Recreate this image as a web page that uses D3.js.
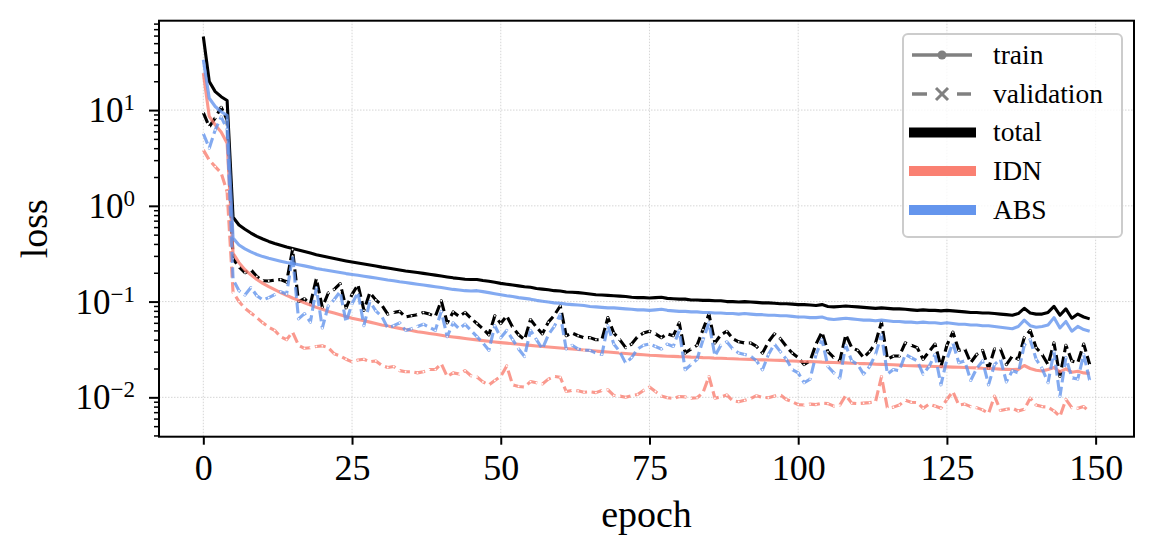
<!DOCTYPE html>
<html>
<head>
<meta charset="utf-8">
<script src="https://cdn.jsdelivr.net/npm/d3@7"></script>
<style>
  body { margin: 0; background: #fff; }
  svg text { font-family: "Liberation Serif", "DejaVu Serif", serif; fill: #000; }
</style>
</head>
<body>
<script>
// epoch index 0..149 (one value per epoch in every series)
const xTicks = [0, 25, 50, 75, 100, 125, 150];
const yExponents = [-2, -1, 0, 1];

const trainTotal = [
  58.6, 19.9, 15.6, 13.8, 12.6, 0.76, 0.63, 0.57, 0.52, 0.48,
  0.45, 0.425, 0.405, 0.388, 0.372, 0.359, 0.346, 0.333, 0.321, 0.309,
  0.299, 0.29, 0.282, 0.274, 0.266, 0.259, 0.253, 0.247, 0.241, 0.235,
  0.229, 0.224, 0.219, 0.214, 0.209, 0.205, 0.201, 0.197, 0.193, 0.189,
  0.185, 0.181, 0.177, 0.174, 0.171, 0.17, 0.17, 0.166, 0.163, 0.159,
  0.155, 0.152, 0.149, 0.146, 0.143, 0.141, 0.137, 0.135, 0.133, 0.13,
  0.129, 0.126, 0.125, 0.124, 0.122, 0.12, 0.118, 0.117, 0.116, 0.115,
  0.114, 0.113, 0.111, 0.11, 0.11, 0.109, 0.11, 0.111, 0.108, 0.107,
  0.106, 0.106, 0.104, 0.104, 0.103, 0.103, 0.102, 0.102, 0.1, 0.1,
  0.099, 0.1, 0.099, 0.098, 0.097, 0.097, 0.096, 0.095, 0.095, 0.094,
  0.093, 0.093, 0.092, 0.091, 0.093, 0.089, 0.088, 0.089, 0.09, 0.089,
  0.088, 0.087, 0.086, 0.085, 0.086, 0.085, 0.084, 0.084, 0.083, 0.082,
  0.081, 0.082, 0.081, 0.081, 0.08, 0.081, 0.08, 0.079, 0.078, 0.077,
  0.077, 0.076, 0.076, 0.075, 0.074, 0.073, 0.072, 0.075, 0.085, 0.076,
  0.074, 0.074, 0.077, 0.089, 0.072, 0.084, 0.067, 0.074, 0.069, 0.066
];

const valTotal = [
  9.4, 6.7, 8.3, 10.7, 7.9, 0.28, 0.23, 0.2, 0.215, 0.183,
  0.165, 0.164, 0.168, 0.17, 0.16, 0.35, 0.1, 0.107, 0.094, 0.174,
  0.087, 0.123, 0.134, 0.154, 0.086, 0.119, 0.15, 0.081, 0.124, 0.104,
  0.092, 0.074, 0.077, 0.079, 0.069, 0.071, 0.073, 0.077, 0.074, 0.07,
  0.102, 0.06, 0.078, 0.07, 0.077, 0.067, 0.059, 0.052, 0.045, 0.071,
  0.059, 0.071, 0.054, 0.045, 0.04, 0.065, 0.054, 0.046, 0.061, 0.072,
  0.09, 0.044, 0.047, 0.044, 0.042, 0.042, 0.04, 0.04, 0.068, 0.047,
  0.04, 0.033, 0.036, 0.043, 0.047, 0.049, 0.046, 0.042, 0.046, 0.044,
  0.06, 0.029, 0.032, 0.035, 0.051, 0.074, 0.037, 0.045, 0.049, 0.041,
  0.038, 0.037, 0.037, 0.034, 0.029, 0.038, 0.046, 0.041, 0.034, 0.029,
  0.026, 0.022, 0.024, 0.036, 0.048, 0.03, 0.026, 0.024, 0.045, 0.033,
  0.031, 0.026, 0.03, 0.037, 0.061, 0.025, 0.027, 0.027, 0.037, 0.035,
  0.033, 0.025, 0.03, 0.036, 0.021, 0.035, 0.048, 0.031, 0.032, 0.023,
  0.028, 0.031, 0.02, 0.032, 0.032, 0.022, 0.027, 0.025, 0.042, 0.05,
  0.033, 0.028, 0.022, 0.037, 0.0165, 0.035, 0.024, 0.023, 0.036, 0.022
];

const trainIdn = [
  24.3, 8.6, 7.0, 5.9, 4.5, 0.32, 0.255, 0.215, 0.19, 0.17,
  0.155, 0.143, 0.133, 0.124, 0.116, 0.109, 0.103, 0.097, 0.092, 0.087,
  0.083, 0.079, 0.076, 0.073, 0.070, 0.067, 0.065, 0.063, 0.061, 0.059,
  0.057, 0.0555, 0.054, 0.0525, 0.051, 0.050, 0.0485, 0.0475, 0.0465, 0.0455,
  0.0445, 0.0435, 0.0427, 0.042, 0.0412, 0.0405, 0.0398, 0.0391, 0.0385, 0.0379,
  0.0373, 0.0368, 0.0363, 0.0358, 0.0353, 0.0349, 0.0344, 0.034, 0.0336, 0.0332,
  0.0328, 0.0324, 0.032, 0.0316, 0.0312, 0.0308, 0.0304, 0.03, 0.0297, 0.0294,
  0.029, 0.0287, 0.0284, 0.0281, 0.0278, 0.0275, 0.0273, 0.0271, 0.0269, 0.0268,
  0.0266, 0.0265, 0.0263, 0.0262, 0.026, 0.0259, 0.0257, 0.0256, 0.0254, 0.0253,
  0.0251, 0.025, 0.0249, 0.0247, 0.0246, 0.0245, 0.0244, 0.0243, 0.0241, 0.024,
  0.0238, 0.0237, 0.0236, 0.0235, 0.0233, 0.0232, 0.0231, 0.023, 0.0229, 0.0227,
  0.0226, 0.0225, 0.0224, 0.0222, 0.0221, 0.022, 0.0219, 0.0217, 0.0215, 0.0214,
  0.0213, 0.0212, 0.0211, 0.021, 0.0209, 0.0208, 0.0207, 0.0206, 0.0205, 0.0204,
  0.0203, 0.0201, 0.02, 0.0199, 0.0197, 0.0196, 0.0195, 0.0196, 0.0215, 0.02,
  0.0192, 0.0188, 0.0195, 0.0205, 0.0185, 0.0198, 0.0183, 0.0187, 0.018, 0.0178
];

const valIdn = [
  3.84, 3.0, 2.57, 2.2, 1.4, 0.125, 0.1, 0.085, 0.076, 0.068,
  0.06, 0.054, 0.05, 0.043, 0.04, 0.048, 0.035, 0.0325, 0.033, 0.034,
  0.0345, 0.033, 0.0285, 0.027, 0.025, 0.0235, 0.0245, 0.025, 0.0235, 0.024,
  0.0215, 0.0205, 0.021, 0.019, 0.0185, 0.0185, 0.018, 0.0185, 0.0195, 0.0195,
  0.0225, 0.0165, 0.018, 0.0175, 0.019, 0.0168, 0.0163, 0.0145, 0.0135, 0.015,
  0.0165, 0.0213, 0.0135, 0.013, 0.0128, 0.0146, 0.0142, 0.0138, 0.0155, 0.0165,
  0.0162, 0.0115, 0.0118, 0.0117, 0.0113, 0.0114, 0.0112, 0.0118, 0.012, 0.0105,
  0.0103, 0.01, 0.0104, 0.0107, 0.0118, 0.0128, 0.0115, 0.0103, 0.0099, 0.0097,
  0.0102, 0.0101, 0.0098, 0.0099, 0.0112, 0.0165, 0.0098, 0.0101, 0.0106, 0.0092,
  0.009, 0.0093, 0.0097, 0.0104, 0.01, 0.0099, 0.0103, 0.0106, 0.0095, 0.009,
  0.0084, 0.0083, 0.0085, 0.0084, 0.0087, 0.0086, 0.0081, 0.0083, 0.0105, 0.0087,
  0.0086, 0.0087, 0.0088, 0.009, 0.0165, 0.0077, 0.0079, 0.0083, 0.0093, 0.0089,
  0.0088, 0.0077, 0.0085, 0.0081, 0.0077, 0.0095, 0.0115, 0.0083, 0.0085, 0.008,
  0.0078, 0.0074, 0.0068, 0.0103, 0.0073, 0.0075, 0.0077, 0.0072, 0.0075, 0.0098,
  0.0083, 0.008, 0.0079, 0.0072, 0.0063, 0.0095, 0.0078, 0.0077, 0.008, 0.007
];

const trainAbs = [
  33.5, 13.3, 10.9, 9.6, 8.8, 0.46, 0.39, 0.355, 0.33, 0.31,
  0.295, 0.283, 0.273, 0.264, 0.256, 0.25, 0.243, 0.236, 0.229, 0.222,
  0.216, 0.211, 0.206, 0.201, 0.196, 0.192, 0.188, 0.184, 0.18, 0.176,
  0.172, 0.168, 0.165, 0.161, 0.158, 0.155, 0.152, 0.149, 0.146, 0.143,
  0.14, 0.137, 0.134, 0.132, 0.13, 0.129, 0.13, 0.127, 0.124, 0.121,
  0.118, 0.115, 0.113, 0.11, 0.108, 0.106, 0.103, 0.101, 0.099, 0.097,
  0.096, 0.094, 0.093, 0.092, 0.091, 0.089, 0.088, 0.087, 0.086, 0.086,
  0.085, 0.084, 0.083, 0.082, 0.082, 0.081, 0.082, 0.083, 0.081, 0.08,
  0.079, 0.079, 0.078, 0.078, 0.077, 0.077, 0.076, 0.076, 0.075, 0.075,
  0.074, 0.075, 0.074, 0.073, 0.073, 0.072, 0.072, 0.071, 0.071, 0.07,
  0.069, 0.069, 0.068, 0.068, 0.069, 0.066, 0.065, 0.066, 0.067, 0.066,
  0.065, 0.064, 0.064, 0.063, 0.064, 0.063, 0.062, 0.062, 0.061, 0.061,
  0.06, 0.061, 0.06, 0.06, 0.059, 0.06, 0.059, 0.058, 0.058, 0.057,
  0.057, 0.056, 0.056, 0.055, 0.054, 0.053, 0.052, 0.055, 0.064, 0.056,
  0.054, 0.055, 0.057, 0.068, 0.053, 0.062, 0.049, 0.055, 0.051, 0.049
];

const valAbs = [
  5.7, 4.0, 6.2, 8.5, 6.3, 0.17, 0.13, 0.117, 0.14, 0.115,
  0.104, 0.11, 0.118, 0.127, 0.12, 0.3, 0.066, 0.075, 0.061, 0.14,
  0.053, 0.09, 0.105, 0.127, 0.061, 0.095, 0.125, 0.056, 0.1, 0.08,
  0.07, 0.053, 0.056, 0.06, 0.05, 0.052, 0.055, 0.058, 0.054, 0.05,
  0.079, 0.043, 0.06, 0.052, 0.058, 0.05, 0.043, 0.037, 0.031, 0.056,
  0.042, 0.05, 0.04, 0.032, 0.0267, 0.05, 0.04, 0.032, 0.045, 0.055,
  0.0735, 0.032, 0.035, 0.032, 0.031, 0.031, 0.029, 0.028, 0.056, 0.036,
  0.03, 0.0227, 0.026, 0.032, 0.035, 0.036, 0.034, 0.032, 0.036, 0.034,
  0.05, 0.0194, 0.022, 0.025, 0.04, 0.06, 0.027, 0.035, 0.038, 0.032,
  0.029, 0.028, 0.027, 0.024, 0.0194, 0.028, 0.036, 0.03, 0.025, 0.0195,
  0.018, 0.0142, 0.0155, 0.028, 0.04, 0.021, 0.018, 0.0159, 0.035, 0.024,
  0.022, 0.0175, 0.021, 0.028, 0.045, 0.0175, 0.0195, 0.019, 0.028, 0.026,
  0.024, 0.0175, 0.021, 0.028, 0.0135, 0.025, 0.037, 0.023, 0.024, 0.015,
  0.02, 0.024, 0.0135, 0.022, 0.025, 0.0145, 0.019, 0.018, 0.035, 0.04,
  0.025, 0.02, 0.0142, 0.03, 0.0102, 0.026, 0.016, 0.0155, 0.028, 0.015
];

const seriesNames = ['total', 'IDN', 'ABS'];
const seriesColors = ['#000000', '#fa8072', '#6495ed'];

const width = 1155;
const height = 556;
const plot = { left: 159, right: 1134, top: 20.7, bottom: 436.7 };

const xScale = d3.scaleLinear().domain([-7.45, 156.45]).range([plot.left, plot.right]);
const yScale = d3.scaleLog().domain([0.00388, 85.8]).range([plot.bottom, plot.top]);

const svg = d3
    .select('body')
    .append('svg')
    .attr('width', width)
    .attr('height', height);

svg.append('defs')
    .append('clipPath')
    .attr('id', 'plotclip')
    .append('rect')
    .attr('x', plot.left)
    .attr('y', plot.top)
    .attr('width', plot.right - plot.left)
    .attr('height', plot.bottom - plot.top);

// Grid
const grid = svg.append('g').attr('stroke', '#c4c4c4').attr('stroke-width', 0.7).attr('stroke-dasharray', '1.5,1.5');
grid.selectAll('line.gx')
    .data(xTicks)
    .enter()
    .append('line')
    .attr('x1', d => xScale(d))
    .attr('x2', d => xScale(d))
    .attr('y1', plot.top)
    .attr('y2', plot.bottom);
grid.selectAll('line.gy')
    .data(yExponents)
    .enter()
    .append('line')
    .attr('x1', plot.left)
    .attr('x2', plot.right)
    .attr('y1', d => yScale(Math.pow(10, d)))
    .attr('y2', d => yScale(Math.pow(10, d)));

// Lines: per component, train then validation
const line = d3.line().x((d, i) => xScale(i)).y(d => yScale(d));
const lineData = [
    { values: trainTotal, color: seriesColors[0], dashed: false, opacity: 1 },
    { values: valTotal, color: seriesColors[0], dashed: true, opacity: 1 },
    { values: trainIdn, color: seriesColors[1], dashed: false, opacity: 0.8 },
    { values: valIdn, color: seriesColors[1], dashed: true, opacity: 0.8 },
    { values: trainAbs, color: seriesColors[2], dashed: false, opacity: 0.8 },
    { values: valAbs, color: seriesColors[2], dashed: true, opacity: 0.8 }
];

const lines = svg.append('g').attr('clip-path', 'url(#plotclip)');
lineData.forEach(s => {
    const g = lines.append('g').attr('opacity', s.opacity);
    g.append('path')
        .attr('d', line(s.values))
        .attr('fill', 'none')
        .attr('stroke', s.color)
        .attr('stroke-width', 3.1)
        .attr('stroke-linejoin', 'round')
        .attr('stroke-dasharray', s.dashed ? '11,4.5' : null);
    if (s.dashed) {
        g.selectAll('circle')
            .data(s.values)
            .enter()
            .append('circle')
            .attr('cx', (d, i) => xScale(i))
            .attr('cy', d => yScale(d))
            .attr('r', 0.9)
            .attr('fill', '#fff');
    }
});

// Frame
svg.append('rect')
    .attr('x', plot.left)
    .attr('y', plot.top)
    .attr('width', plot.right - plot.left)
    .attr('height', plot.bottom - plot.top)
    .attr('fill', 'none')
    .attr('stroke', '#000')
    .attr('stroke-width', 2);

// x-axis
const xAxis = svg.append('g')
    .attr('transform', `translate(0, ${plot.bottom})`)
    .call(d3.axisBottom(xScale).tickValues(xTicks).tickSize(8).tickPadding(10));
xAxis.select('.domain').remove();
xAxis.selectAll('line').attr('stroke-width', 2);
xAxis.selectAll('text')
    .attr('font-size', '36px')
    .attr('font-family', '"Liberation Serif", serif');

// y-axis minor ticks
const minorTicks = [];
[-3, -2, -1, 0, 1].forEach(e => {
    for (let m = 2; m <= 9; m++) {
        const v = m * Math.pow(10, e);
        if (v >= 0.00388 && v <= 85.8) minorTicks.push(v);
    }
});
const yMinor = svg.append('g')
    .attr('transform', `translate(${plot.left}, 0)`)
    .call(d3.axisLeft(yScale).tickValues(minorTicks).tickSize(5).tickFormat(''));
yMinor.select('.domain').remove();
yMinor.selectAll('line').attr('stroke-width', 1.5);

// y-axis major ticks with power labels
const yMajor = svg.append('g')
    .attr('transform', `translate(${plot.left}, 0)`)
    .call(d3.axisLeft(yScale).tickValues(yExponents.map(e => Math.pow(10, e))).tickSize(10).tickFormat(''));
yMajor.select('.domain').remove();
yMajor.selectAll('line').attr('stroke-width', 2);

svg.append('g')
    .selectAll('text')
    .data(yExponents)
    .enter()
    .append('text')
    .attr('x', 135)
    .attr('y', d => yScale(Math.pow(10, d)) + 12)
    .attr('text-anchor', 'end')
    .attr('font-size', '35px')
    .each(function(d) {
        const t = d3.select(this);
        t.append('tspan').text('10');
        t.append('tspan')
            .attr('font-size', '23px')
            .attr('dy', -12)
            .text(d < 0 ? `\u2212${-d}` : `${d}`);
    });

// Axis labels
svg.append('text')
    .attr('x', (plot.left + plot.right) / 2)
    .attr('y', 527)
    .attr('text-anchor', 'middle')
    .attr('font-size', '38px')
    .text('epoch');

svg.append('text')
    .attr('transform', `translate(47, ${(plot.top + plot.bottom) / 2}) rotate(-90)`)
    .attr('text-anchor', 'middle')
    .attr('font-size', '38px')
    .text('loss');

// Legend
const legend = svg.append('g');
legend.append('rect')
    .attr('x', 903)
    .attr('y', 34)
    .attr('width', 219)
    .attr('height', 203)
    .attr('rx', 5)
    .attr('fill', '#fff')
    .attr('fill-opacity', 0.8)
    .attr('stroke', '#cccccc')
    .attr('stroke-width', 2);

const rowY = [55, 94, 132.5, 171, 210];
const legendLabels = ['train', 'validation'].concat(seriesNames);

// train handle
legend.append('line')
    .attr('x1', 912).attr('x2', 972)
    .attr('y1', rowY[0]).attr('y2', rowY[0])
    .attr('stroke', '#808080').attr('stroke-width', 3.5);
legend.append('circle')
    .attr('cx', 942).attr('cy', rowY[0]).attr('r', 4.5)
    .attr('fill', '#808080');

// validation handle
[[912, 927], [957, 971]].forEach(seg => {
    legend.append('line')
        .attr('x1', seg[0]).attr('x2', seg[1])
        .attr('y1', rowY[1]).attr('y2', rowY[1])
        .attr('stroke', '#808080').attr('stroke-width', 3.5);
});
[[-1, -1], [-1, 1]].forEach(s => {
    legend.append('line')
        .attr('x1', 942 - 6).attr('x2', 942 + 6)
        .attr('y1', rowY[1] + 6 * s[1]).attr('y2', rowY[1] - 6 * s[1])
        .attr('stroke', '#808080').attr('stroke-width', 3);
});

// colour patches
legend.selectAll('rect.patch')
    .data(seriesColors)
    .enter()
    .append('rect')
    .attr('class', 'patch')
    .attr('x', 909)
    .attr('y', (d, i) => rowY[i + 2] - 5)
    .attr('width', 67)
    .attr('height', 10)
    .attr('fill', d => d);

legend.selectAll('text')
    .data(legendLabels)
    .enter()
    .append('text')
    .attr('x', 993)
    .attr('y', (d, i) => rowY[i] + 8.5)
    .attr('font-size', '27.5px')
    .text(d => d);
</script>
</body>
</html>
